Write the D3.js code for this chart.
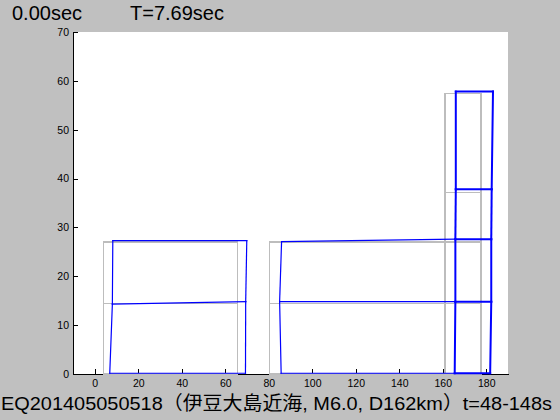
<!DOCTYPE html>
<html>
<head>
<meta charset="utf-8">
<script src="https://cdn.jsdelivr.net/npm/d3@7"></script>
<style>
  body { margin: 0; background: #c0c0c0; }
  svg { display: block; }
</style>
</head>
<body>
<svg id="chart" width="560" height="420"></svg>
<script>
const xTicks = [0, 20, 40, 60, 80, 100, 120, 140, 160, 180];
const yTicks = [0, 10, 20, 30, 40, 50, 60, 70];

const timeLabel = "0.00sec";
const periodLabel = "T=7.69sec";
const title = "EQ201405050518（伊豆大島近海, M6.0, D162km）t=48-148s";

// building 1: undeformed nodes, deformed nodes, members (node index pairs)
const b1Nodes = [[4, 0], [65.7, 0], [4, 14.5], [65.7, 14.5], [4, 27], [65.7, 27]];
const b1Disp = [[6.9, 0.15], [69.3, 0.15], [8.1, 14.3], [69.4, 14.8], [8.3, 27.3], [69.9, 27.3]];
const b1Members = [[0, 1], [2, 3], [4, 5], [0, 2], [2, 4], [1, 3], [3, 5]];

// building 2 with tower
const b2Nodes = [[80.3, 0], [161, 0], [177.6, 0], [80.3, 14.5], [161, 14.5], [177.6, 14.5],
  [80.3, 27], [161, 27], [177.6, 27], [161, 37.2], [177.6, 37.2], [161, 57.4], [177.6, 57.4]];
const b2Disp = [[85.7, 0.15], [165.5, 0.15], [181.8, 0.15], [85.0, 14.8], [165.8, 14.8], [182.3, 14.8],
  [85.9, 27.1], [165.8, 27.6], [182.3, 27.6], [166, 37.8], [182.5, 37.8], [166, 57.8], [183.1, 57.8]];
const b2Members = [[0, 1], [1, 2], [3, 4], [4, 5], [6, 7], [7, 8], [9, 10], [11, 12],
  [0, 3], [3, 6], [1, 4], [4, 7], [7, 9], [9, 11], [2, 5], [5, 8], [8, 10], [10, 12]];

const svg = d3.select("#chart");

const x = d3.scaleLinear().domain([-10, 190]).range([73, 508]);
const y = d3.scaleLinear().domain([0, 70]).range([374, 32]);

// plot background
svg.append("rect")
  .attr("x", x(-10)).attr("y", y(70))
  .attr("width", x(190) - x(-10)).attr("height", y(0) - y(70))
  .attr("fill", "#fff");

// axes (ticks pointing inward)
const xAxis = svg.append("g")
  .attr("transform", `translate(0,${y(0)})`)
  .call(d3.axisBottom(x).tickValues(xTicks).tickSizeInner(-5).tickSizeOuter(0).tickPadding(6));
const yAxis = svg.append("g")
  .attr("transform", `translate(${x(-10)},0)`)
  .call(d3.axisLeft(y).tickValues(yTicks).tickSizeInner(-5).tickSizeOuter(0).tickPadding(4));

[xAxis, yAxis].forEach((g) => {
  g.selectAll("path, line").attr("stroke", "#000").attr("shape-rendering", "crispEdges");
  g.selectAll("text")
    .attr("fill", "#000")
    .style("font-family", "'Liberation Sans', Arial, sans-serif")
    .style("font-size", "10.5px");
});

function drawFrame(nodes, members, color, widthFn, rendering) {
  svg.append("g")
    .selectAll("line")
    .data(members)
    .enter()
    .append("line")
    .attr("x1", (m) => x(nodes[m[0]][0]))
    .attr("y1", (m) => y(nodes[m[0]][1]))
    .attr("x2", (m) => x(nodes[m[1]][0]))
    .attr("y2", (m) => y(nodes[m[1]][1]))
    .attr("stroke", color)
    .attr("stroke-width", widthFn)
    .attr("stroke-linecap", "square")
    .attr("shape-rendering", rendering);
}

// undeformed shape (gray)
drawFrame(b1Nodes, b1Members, "#bdbdbd", 1.2, "crispEdges");
drawFrame(b2Nodes, b2Members, "#bdbdbd", (m) =>
  b2Nodes[m[0]][0] === 161 && b2Nodes[m[1]][0] === 161 ? 1.7 : 1.2, "crispEdges");

// deformed shape (blue)
drawFrame(b1Disp, b1Members, "#0000ff", 1.2, "auto");
drawFrame(b2Disp, b2Members, "#0000ff", (m) =>
  b2Nodes[m[0]][0] >= 161 && b2Nodes[m[1]][0] >= 161 ? 2 : 1.2, "auto");

// texts
svg.append("text")
  .attr("x", 12).attr("y", 20)
  .style("font-family", "'Liberation Sans', Arial, sans-serif")
  .style("font-size", "20px")
  .text(timeLabel);
svg.append("text")
  .attr("x", 130).attr("y", 20)
  .style("font-family", "'Liberation Sans', Arial, sans-serif")
  .style("font-size", "20px")
  .text(periodLabel);
svg.append("text")
  .attr("x", 1).attr("y", 410)
  .attr("textLength", 551)
  .attr("lengthAdjust", "spacingAndGlyphs")
  .style("font-family", "'Liberation Sans', 'Noto Sans CJK JP', sans-serif")
  .style("font-size", "19px")
  .text(title);
</script>
</body>
</html>
